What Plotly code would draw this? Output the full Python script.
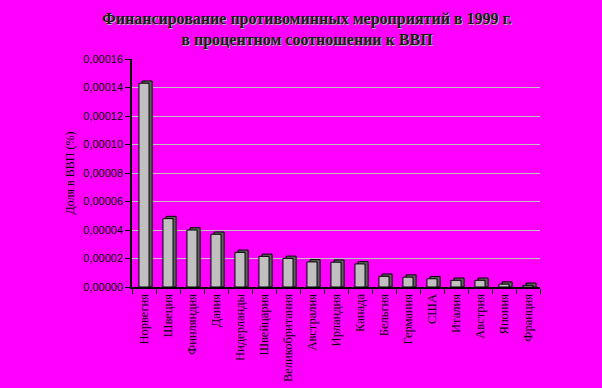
import plotly.graph_objects as go

countries = ["Норвегия", "Швеция", "Финляндия", "Дания", "Нидерланды", "Швейцария",
             "Великобритания", "Австралия", "Ирландия", "Канада", "Бельгия", "Германия",
             "США", "Италия", "Австрия", "Япония", "Франция"]
share = [0.000143, 0.000048, 0.000040, 0.000037, 0.0000243, 0.0000215,
         0.0000201, 0.0000176, 0.0000174, 0.0000162, 0.0000075, 0.0000069,
         0.0000058, 0.0000047, 0.0000047, 0.0000020, 0.0000012]
tick_vals = [0, 0.00002, 0.00004, 0.00006, 0.00008, 0.00010, 0.00012, 0.00014, 0.00016]
title_lines = ["Финансирование противоминных мероприятий в 1999 г.",
               "в процентном соотношении к ВВП"]

depth = 0.0000016  # 3D look depth in data units
fig = go.Figure()
fig.add_trace(go.Bar(x=countries, y=[v + depth for v in share], width=0.42, offset=-0.21 + 0.13,
                     marker=dict(color="#606060", line=dict(color="black", width=1)),
                     hoverinfo="skip", showlegend=False))
fig.add_trace(go.Bar(x=countries, y=share, width=0.42, offset=-0.21,
                     marker=dict(color="#C0C0C0", line=dict(color="black", width=1)),
                     showlegend=False))

fig.add_annotation(text="<br>".join(title_lines), xref="paper", yref="paper",
                   x=0.43, y=1.13, xanchor="center", yanchor="middle", showarrow=False,
                   font=dict(family="Liberation Serif", size=16, color="#1a1a1a", weight="bold",
                             shadow="1px 1px 0px #B0B0B0"))

fig.update_layout(
    width=602, height=388,
    paper_bgcolor="#FF00FF", plot_bgcolor="#FF00FF",
    barmode="overlay", separators=", ",
    margin=dict(l=132, r=62, t=59, b=101, autoexpand=False),
    font=dict(family="Liberation Serif", color="black"),
)
fig.update_yaxes(range=[0, 0.00016], tickvals=tick_vals, tickformat=".5f",
                 showgrid=True, gridcolor="#C0C0C0", gridwidth=1,
                 showline=True, linecolor="black", linewidth=1.5,
                 ticks="outside", ticklen=5, tickcolor="black",
                 tickfont=dict(family="Liberation Sans", size=11, color="black"),
                 title=dict(text="Доля в ВВП (%)", standoff=6,
                            font=dict(family="Liberation Serif", size=12, color="black")),
                 zeroline=False)
fig.update_xaxes(showline=True, linecolor="black", linewidth=2,
                 ticks="outside", ticklen=5, tickcolor="black", tickson="boundaries",
                 tickangle=-90, showgrid=False,
                 tickfont=dict(family="Liberation Serif", size=12.5, color="black"),
                 range=[-0.5, 16.5])

fig.write_html("out.html", config={"displayModeBar": False},
               post_script="document.body.style.margin='0';")
